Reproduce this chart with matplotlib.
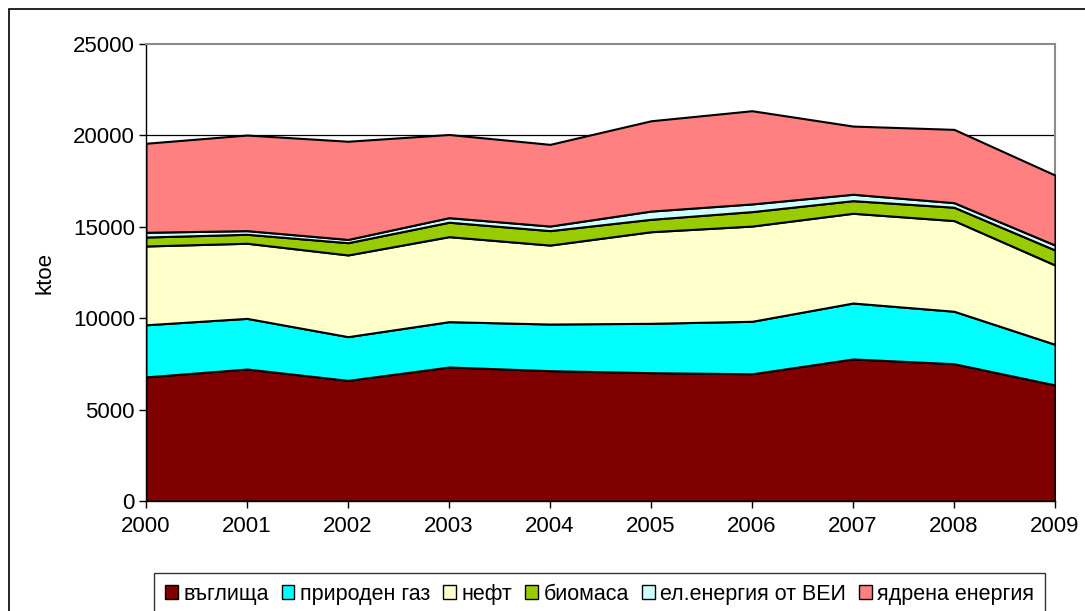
import matplotlib
matplotlib.use("Agg")
import matplotlib.pyplot as plt
from matplotlib.patches import Patch, Rectangle

years = [2000, 2001, 2002, 2003, 2004, 2005, 2006, 2007, 2008, 2009]
coal = [6790, 7220, 6600, 7330, 7130, 7020, 6960, 7770, 7510, 6350]
gas = [2850, 2770, 2390, 2480, 2550, 2700, 2870, 3060, 2870, 2220]
oil = [4310, 4110, 4470, 4650, 4320, 5010, 5210, 4910, 4960, 4340]
biomass = [490, 490, 670, 790, 790, 680, 790, 690, 730, 820]
res_el = [260, 200, 180, 250, 250, 450, 420, 350, 250, 270]
nuclear = [4870, 5230, 5370, 4550, 4470, 4940, 5100, 3730, 4010, 3830]

labels = ["въглища", "природен газ", "нефт", "биомаса", "ел.енергия от ВЕИ", "ядрена енергия"]
colors = ["#800000", "#00FFFF", "#FFFFCC", "#99CC00", "#CCFFFF", "#FF8080"]
series = [coal, gas, oil, biomass, res_el, nuclear]

plt.rcParams['font.family'] = ['Liberation Sans', 'DejaVu Sans']

W, H = 1085, 611
fig = plt.figure(figsize=(W / 100, H / 100), dpi=100)
fig.patch.set_facecolor("white")

# outer chart border
fig.add_artist(Rectangle((9 / W, -0.2), 1.2, 1.2 - 9 / H, transform=fig.transFigure,
                         fill=False, edgecolor="black", linewidth=1.2))

ax = fig.add_axes([146 / W, 1 - 501 / H, (1055 - 146) / W, (501 - 44) / H])

ax.stackplot(years, *series, colors=colors, edgecolor="black", linewidth=1.5, zorder=3)

ax.set_xlim(2000, 2009)
ax.set_ylim(0, 25000)
ax.set_xticks(years)
ax.set_xticklabels([str(y) for y in years])
ax.set_yticks([0, 5000, 10000, 15000, 20000, 25000])
ax.axhline(20000, color="black", linewidth=0.9, zorder=1)

ax.tick_params(axis="both", direction="out", length=5, width=1, labelsize=16, colors="black")
ax.tick_params(axis="x", pad=6)
ax.tick_params(axis="y", pad=3)

for side in ["left", "bottom"]:
    ax.spines[side].set_color("black")
    ax.spines[side].set_linewidth(1)
for side in ["top", "right"]:
    ax.spines[side].set_color("#8c8c8c")
    ax.spines[side].set_linewidth(1.5)
ax.spines["bottom"].set_zorder(5)

ax.set_ylabel("ktoe", fontsize=16)
ax.yaxis.set_label_coords(-(146 - 56) / (1055 - 146), 0.5)

handles = [Patch(facecolor=c, edgecolor="black", linewidth=1) for c in colors]
leg = fig.legend(handles, labels, loc="upper left", ncol=6,
                 bbox_to_anchor=(154 / W, 1 - 573 / H, (1045 - 154) / W, 0.0),
                 bbox_transform=fig.transFigure, mode="expand",
                 fontsize=15.5, frameon=True, fancybox=False,
                 handlelength=0.6, handleheight=0.6, handletextpad=0.25,
                 columnspacing=0.3, borderpad=0.5, borderaxespad=0)
leg.get_frame().set_edgecolor("black")
leg.get_frame().set_linewidth(1)

fig.savefig("out.png", dpi=100)
